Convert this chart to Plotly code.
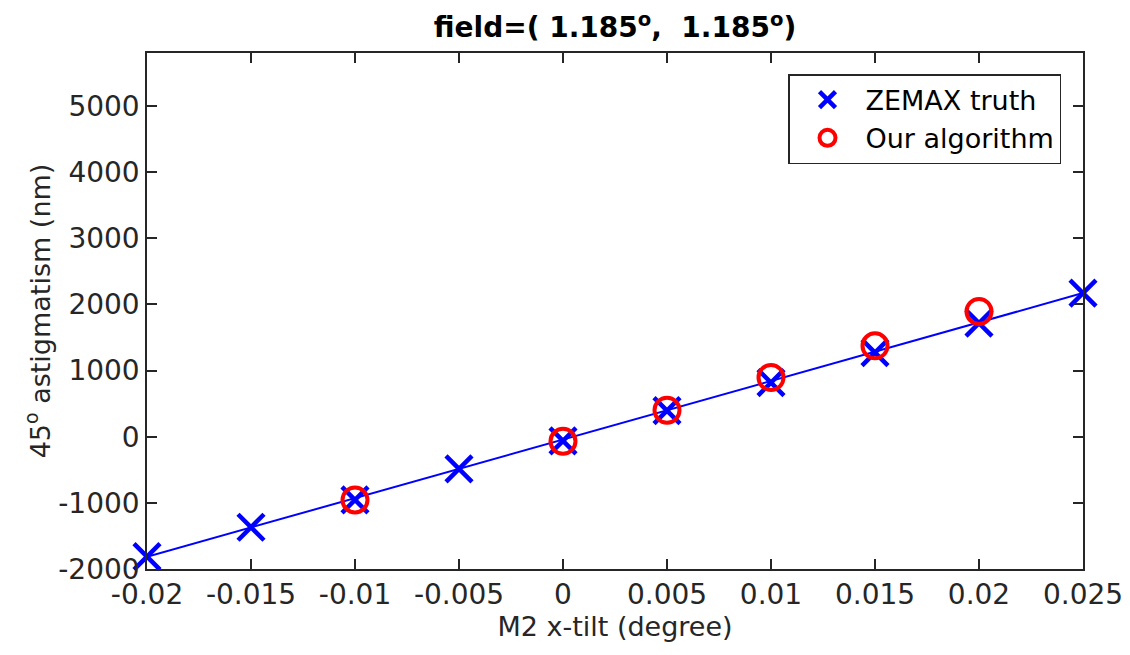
import plotly.graph_objects as go

# M2 x-tilt sample positions (degree)
tilt_truth = [-0.02, -0.015, -0.01, -0.005, 0.0, 0.005, 0.01, 0.015, 0.02, 0.025]
astig_truth = [-1814, -1369, -956, -487, -64, 395, 818, 1272, 1717, 2171]

tilt_algo = [-0.01, 0.0, 0.005, 0.01, 0.015, 0.02]
astig_algo = [-956, -70, 400, 895, 1374, 1893]

# reference line across the full tilt range
line_x = [-0.02, 0.025]
line_y = [-1814, 2171]

x_ticks = [-0.02, -0.015, -0.01, -0.005, 0, 0.005, 0.01, 0.015, 0.02, 0.025]
x_tick_text = ["-0.02", "-0.015", "-0.01", "-0.005", "0", "0.005", "0.01", "0.015", "0.02", "0.025"]
y_ticks = [-2000, -1000, 0, 1000, 2000, 3000, 4000, 5000]
y_tick_text = ["-2000", "-1000", "0", "1000", "2000", "3000", "4000", "5000"]

FONT = "DejaVu Sans, Liberation Sans, Arial, sans-serif"
AXIS_COLOR = "#262626"

fig = go.Figure()

fig.add_trace(go.Scatter(
    x=line_x, y=line_y, mode="lines",
    line=dict(color="#0000FF", width=2),
    showlegend=False, hoverinfo="skip", cliponaxis=False,
))

fig.add_trace(go.Scatter(
    x=tilt_truth, y=astig_truth, mode="markers", name="ZEMAX truth",
    marker=dict(symbol="x-thin", size=26, color="#0000FF",
                line=dict(color="#0000FF", width=4.5)),
    cliponaxis=False,
))

fig.add_trace(go.Scatter(
    x=tilt_algo, y=astig_algo, mode="markers", name="Our algorithm",
    marker=dict(symbol="circle-open", size=25, color="#FF0000",
                line=dict(color="#FF0000", width=4)),
    cliponaxis=False,
))

axis_common = dict(
    showline=True, linecolor=AXIS_COLOR, linewidth=1.5, mirror="ticks",
    ticks="inside", ticklen=10, tickwidth=1.5, tickcolor=AXIS_COLOR,
    showgrid=False, zeroline=False, automargin=False,
    tickfont=dict(family=FONT, size=28, color=AXIS_COLOR),
)

fig.update_xaxes(
    range=[-0.02, 0.025], tickvals=x_ticks, ticktext=x_tick_text,
    title=dict(text="M2 x-tilt (degree)", font=dict(family=FONT, size=27, color=AXIS_COLOR), standoff=4),
    **axis_common,
)
fig.update_yaxes(
    range=[-2000, 5800], tickvals=y_ticks, ticktext=y_tick_text,
    title=dict(text="45<sup>o</sup> astigmatism (nm)", font=dict(family=FONT, size=27, color=AXIS_COLOR), standoff=0),
    **axis_common,
)

fig.update_layout(
    width=1130, height=655,
    margin=dict(l=147, r=47, t=53, b=86),
    paper_bgcolor="white", plot_bgcolor="white",
    title=dict(
        text="<b>field=( 1.185<sup>o</sup>,  1.185<sup>o</sup>)</b>",
        font=dict(family=FONT, size=28, color="black"),
        x=0.5, xref="paper", xanchor="center",
        yref="container", y=0.958, yanchor="middle",
    ),
    legend=dict(
        x=0.9765, y=0.959, xanchor="right", yanchor="top",
        bordercolor=AXIS_COLOR, borderwidth=1.5, bgcolor="white",
        font=dict(family=FONT, size=27, color="black"),
        itemsizing="trace", itemwidth=66, tracegroupgap=0,
    ),
    showlegend=True,
)

fig.write_html("out.html")
